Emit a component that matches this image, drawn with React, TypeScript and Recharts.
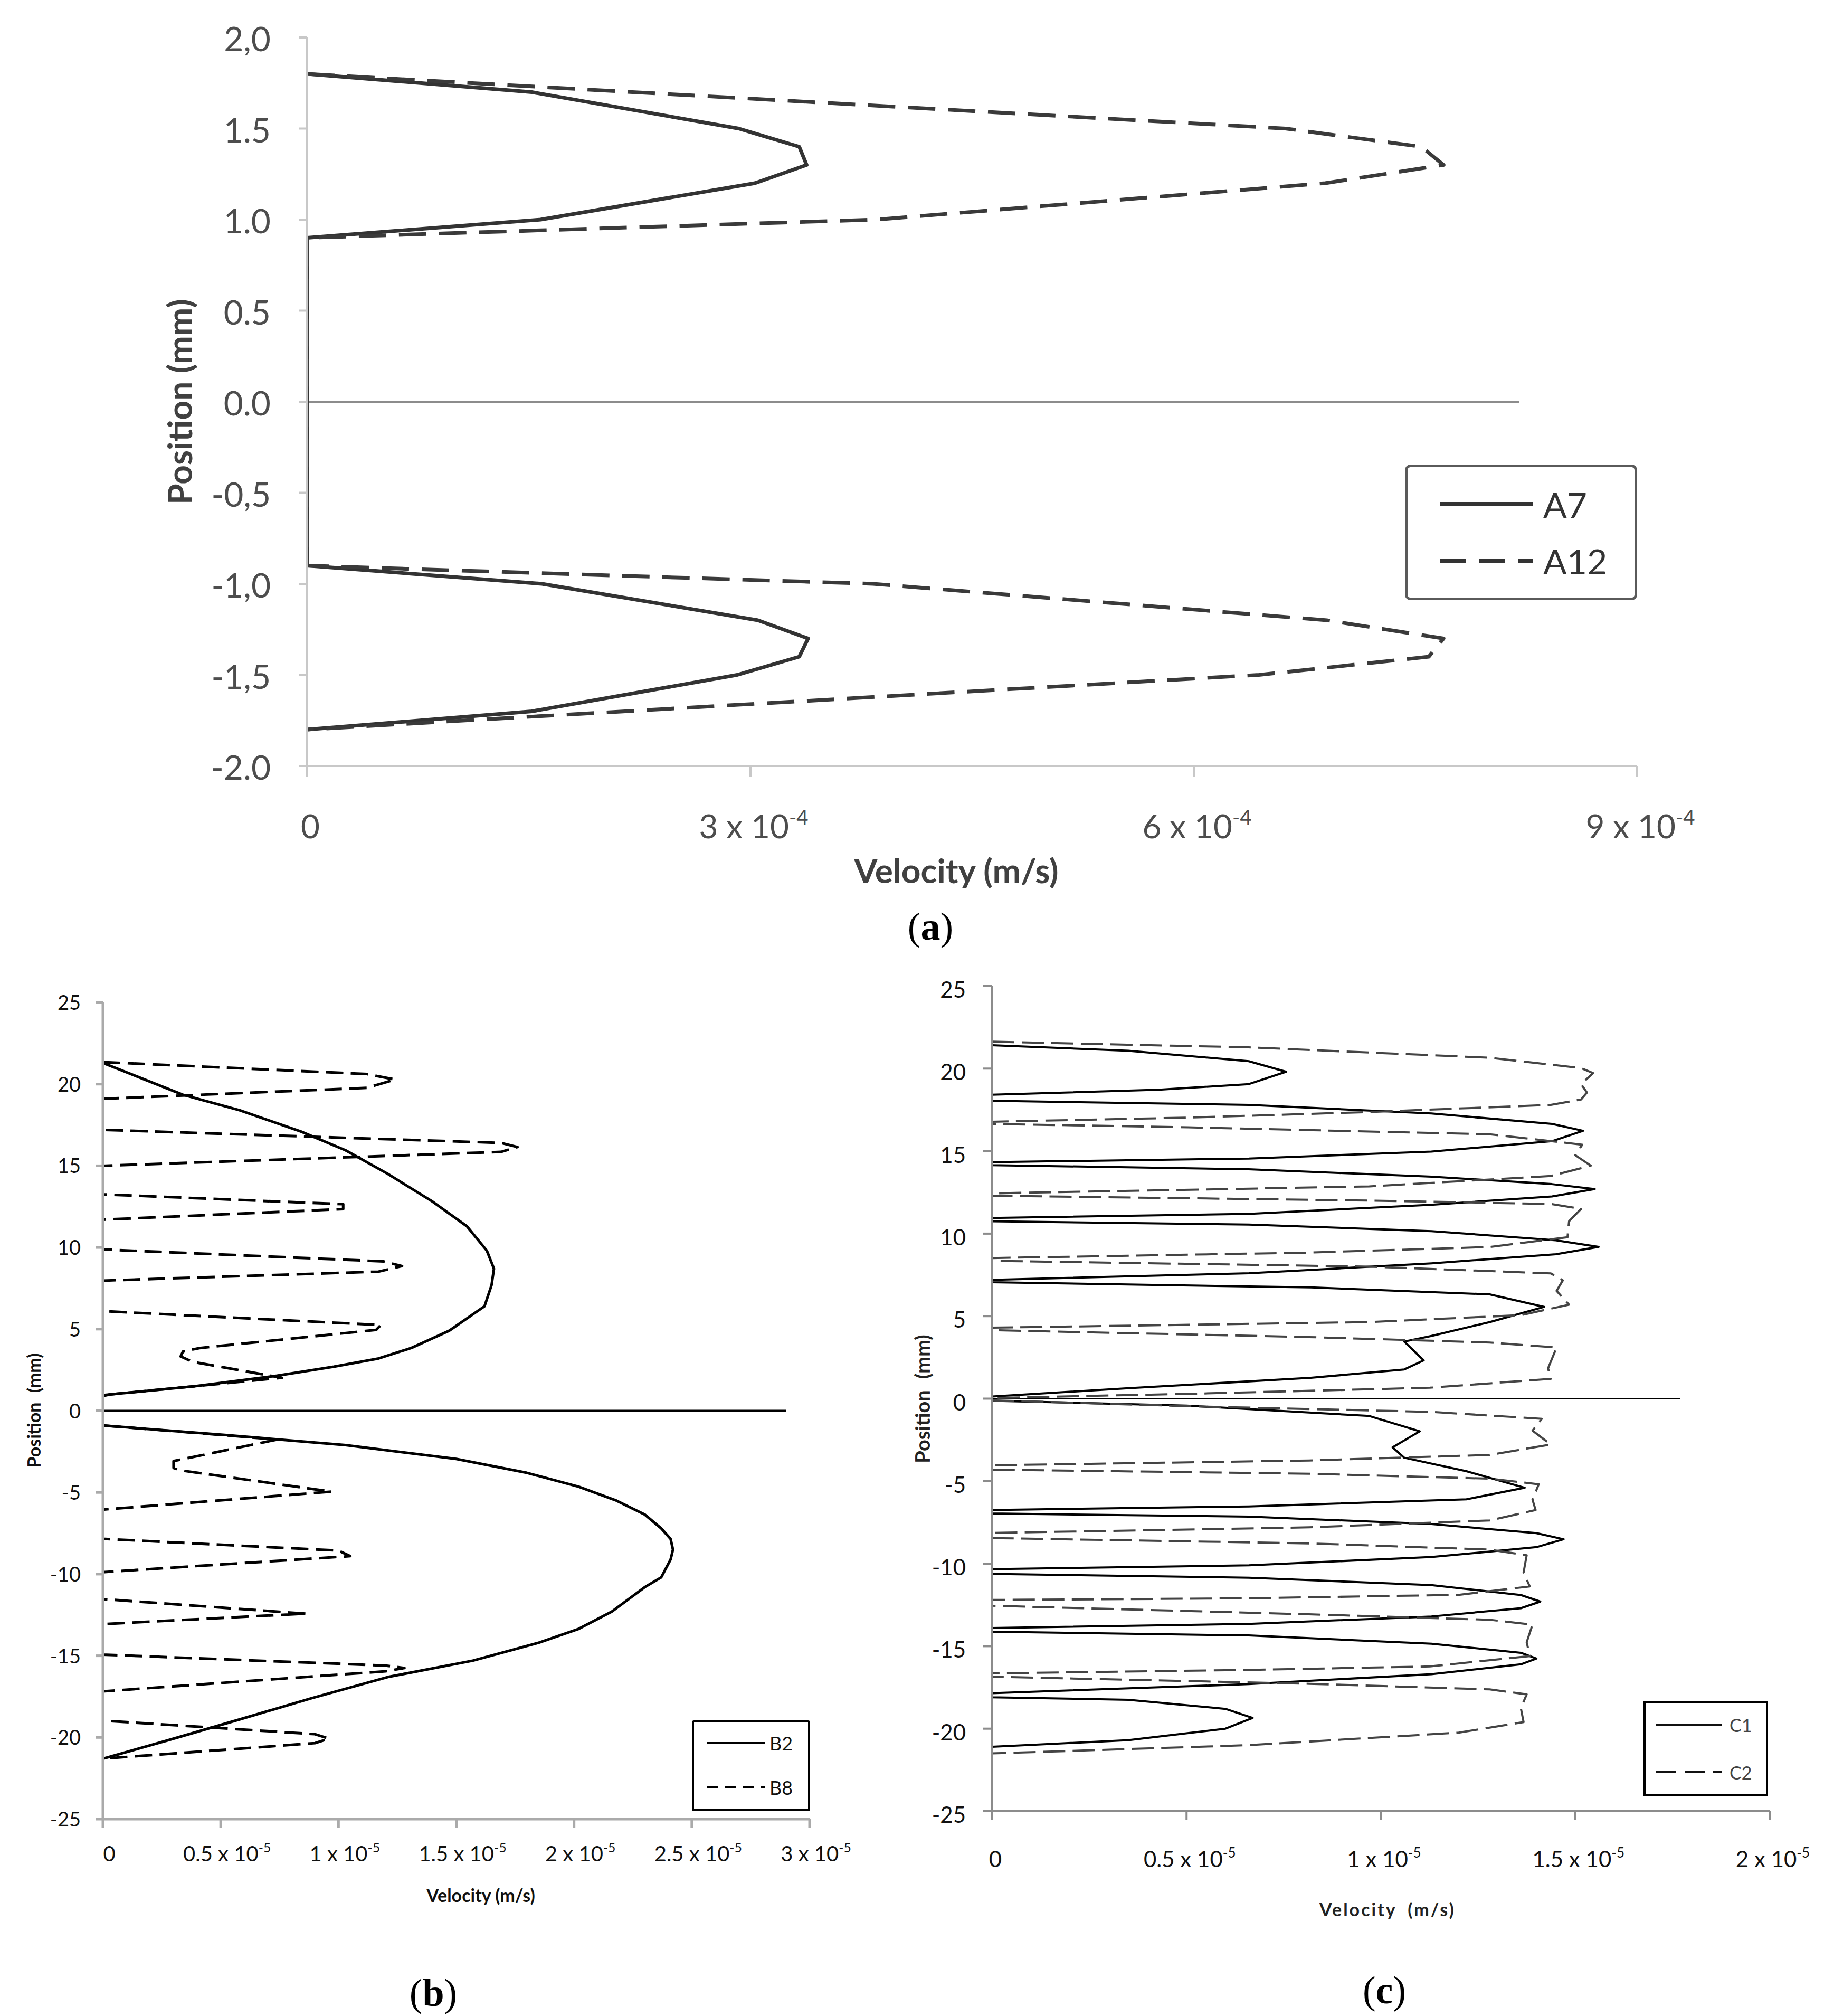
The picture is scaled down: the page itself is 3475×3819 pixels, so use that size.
import React from 'react';
import { LineChart, Line, XAxis, YAxis, Legend } from 'recharts';

const SANS = 'Lato, "Open Sans", "DejaVu Sans", sans-serif';
const SERIF = '"Liberation Serif", "DejaVu Serif", serif';

// ---------- Panel (a): velocity in 1e-4 m/s, position in mm
const posA7 = [1.8, 1.7, 1.5, 1.4, 1.3, 1.2, 1.0, 0.9, -0.9, -1.0, -1.2, -1.3, -1.4, -1.5, -1.7, -1.8];
const velA7 = [0, 1.52, 2.92, 3.33, 3.38, 3.03, 1.58, 0, 0, 1.59, 3.05, 3.39, 3.33, 2.91, 1.52, 0];
const posA12 = [1.8, 1.5, 1.4, 1.3, 1.2, 1.0, 0.9, -0.9, -1.0, -1.2, -1.3, -1.4, -1.5, -1.8];
const velA12 = [0, 6.62, 7.54, 7.69, 6.89, 3.85, 0, 0, 3.83, 6.9, 7.69, 7.59, 6.44, 0];
const posZeroA = [0, 0];
const velZeroA = [0, 8.2];
const xTicksA = [0, 3, 6, 9];
const xLabelsA = ['0', '3 x 10', '6 x 10', '9 x 10'];
const xSupsA = ['', '-4', '-4', '-4'];
const yTicksA = [2, 1.5, 1, 0.5, 0, -0.5, -1, -1.5, -2];
const yLabelsA = ['2,0', '1.5', '1.0', '0.5', '0.0', '-0,5', '-1,0', '-1,5', '-2.0'];

// ---------- Panel (b): velocity in 1e-5 m/s, position in mm
const posB2 = [21.3, 19.35, 18.4, 17.1, 15.95, 14.5, 12.8, 11.3, 9.8, 8.7, 7.7, 6.4, 4.9, 3.85, 3.2, 2.7, 2.15, 1.5, 1.0, 0.9,
  -0.9, -1.47, -2.1, -2.95, -3.8, -4.65, -5.5, -6.35, -7.2, -7.85, -8.5, -9.1, -10.2, -10.8, -12.3, -13.35, -14.2, -15.3, -16.3, -17.6, -18.9, -20.2, -21.3];
const velB2 = [0, 0.34, 0.58, 0.84, 1.03, 1.21, 1.4, 1.545, 1.63, 1.66, 1.65, 1.62, 1.47, 1.31, 1.17, 0.98, 0.74, 0.39, 0.03, 0,
  0, 0.51, 1.03, 1.5, 1.8, 2.02, 2.18, 2.3, 2.37, 2.41, 2.42, 2.41, 2.37, 2.3, 2.16, 2.02, 1.85, 1.57, 1.21, 0.885, 0.58, 0.27, 0];
const posB8 = [21.35, 20.62, 20.28, 19.77, 19.1,
  17.2, 16.4, 16.15, 15.85, 15.0,
  13.25, 12.65, 12.35, 11.7,
  9.88, 9.15, 8.86, 8.52, 7.97,
  6.1, 5.33, 5.25, 4.95, 3.84, 3.63, 3.33, 3.0, 2.02, 0.96,
  -0.9, -1.76, -3.08, -3.5, -3.67, -4.95, -6.05,
  -7.84, -8.56, -8.9, -9.88,
  -11.53, -12.42, -13.06,
  -14.93, -15.6, -15.75, -15.95, -17.18,
  -18.97, -19.8, -20.07, -20.35, -21.3];
const velB8 = [0, 1.12, 1.24, 1.12, 0,
  0, 1.69, 1.76, 1.69, 0,
  0, 1.02, 1.02, 0,
  0, 1.19, 1.27, 1.17, 0,
  0, 1.07, 1.18, 1.16, 0.41, 0.34, 0.33, 0.38, 0.76, 0,
  0, 0.74, 0.3, 0.3, 0.34, 0.97, 0,
  0, 1.0, 1.05, 0,
  0, 0.86, 0,
  0, 1.2, 1.28, 1.2, 0,
  0, 0.9, 0.96, 0.9, 0];
const posZeroB = [0, 0];
const velZeroB = [0, 2.9];
const xTicksB = [0, 0.5, 1, 1.5, 2, 2.5, 3];
const xLabelsB = ['0', '0.5 x 10', '1 x 10', '1.5 x 10', '2 x 10', '2.5 x 10', '3 x 10'];
const xSupsB = ['', '-5', '-5', '-5', '-5', '-5', '-5'];
const yTicksBC = [25, 20, 15, 10, 5, 0, -5, -10, -15, -20, -25];
const yLabelsBC = ['25', '20', '15', '10', '5', '0', '-5', '-10', '-15', '-20', '-25'];

// ---------- Panel (c): velocity in 1e-5 m/s, position in mm
const posC1 = [21.42, 21.08, 20.45, 19.81, 19.06, 18.72, 18.42,
  18.05, 17.8, 17.28, 16.65, 16.23, 15.6, 14.97, 14.55, 14.33,
  14.15, 13.9, 13.45, 13.0, 12.7, 12.25, 11.75, 11.2, 10.95,
  10.75, 10.55, 10.15, 9.6, 9.2, 8.75, 8.2, 7.6, 7.2,
  7.05, 6.74, 6.32, 5.56, 4.64, 3.8, 3.46, 2.32, 1.77, 1.26, 0.63, 0.13,
  -0.13, -0.42, -1.05, -1.98, -2.95, -3.58, -4.4, -5.4, -6.1, -6.53, -6.75,
  -6.96, -7.15, -7.6, -8.15, -8.52, -9.0, -9.6, -10.1, -10.33,
  -10.62, -10.85, -11.3, -11.9, -12.3, -12.7, -13.2, -13.65, -13.9,
  -14.12, -14.35, -14.85, -15.4, -15.75, -16.1, -16.7, -17.3, -17.85,
  -18.1, -18.25, -18.8, -19.35, -20.0, -20.7, -21.1];
const velC1 = [0, 0.35, 0.66, 0.756, 0.66, 0.43, 0,
  0, 0.66, 1.13, 1.44, 1.52, 1.44, 1.13, 0.66, 0,
  0, 0.66, 1.13, 1.44, 1.55, 1.44, 1.13, 0.66, 0,
  0, 0.66, 1.13, 1.45, 1.56, 1.45, 1.13, 0.66, 0,
  0, 0.82, 1.28, 1.42, 1.28, 1.13, 1.06, 1.11, 1.06, 0.82, 0.35, 0,
  0, 0.5, 0.97, 1.1, 1.03, 1.06, 1.22, 1.37, 1.22, 0.66, 0,
  0, 0.66, 1.13, 1.4, 1.47, 1.4, 1.13, 0.66, 0,
  0, 0.66, 1.13, 1.36, 1.41, 1.36, 1.13, 0.66, 0,
  0, 0.66, 1.13, 1.36, 1.4, 1.36, 1.13, 0.66, 0,
  0, 0.35, 0.6, 0.67, 0.6, 0.35, 0];
const posC2 = [21.63, 21.29, 20.66, 20.03, 19.73, 19.06, 18.55, 18.13, 17.8, 17.37, 17.03, 16.78,
  16.65, 16.44, 16.02, 15.39, 14.75, 14.12, 13.49, 12.86, 12.44,
  12.3, 12.0, 11.8, 11.5, 10.75, 9.78, 9.19, 8.85, 8.52,
  8.35, 8.0, 7.59, 7.17, 6.53, 5.69, 5.06, 4.64, 4.3,
  4.15, 3.73, 3.4, 3.1, 1.84, 1.2, 0.66, 0.29, 0.04,
  -0.1, -0.46, -0.8, -1.22, -1.94, -2.78, -3.41, -3.75, -4.04,
  -4.3, -4.55, -4.85, -5.19, -6.12, -6.75, -7.38, -7.8, -8.14,
  -8.45, -8.77, -9.15, -9.49, -10.54, -11.38, -11.89, -12.1, -12.2,
  -12.55, -13.07, -13.4, -13.7, -14.76, -15.6, -16.23, -16.44, -16.65,
  -16.85, -17.28, -17.62, -17.92, -18.76, -19.6, -20.24, -21.0, -21.5];
const velC2 = [0, 0.66, 1.28, 1.515, 1.546, 1.515, 1.53, 1.515, 1.437, 0.97, 0.504, 0,
  0, 0.504, 1.28, 1.518, 1.5, 1.54, 1.437, 0.97, 0,
  0, 0.97, 1.437, 1.515, 1.484, 1.48, 1.28, 0.815, 0,
  0, 0.97, 1.437, 1.468, 1.452, 1.484, 1.36, 0.97, 0,
  0, 0.815, 1.28, 1.452, 1.43, 1.437, 1.126, 0.504, 0,
  0, 0.504, 1.126, 1.414, 1.39, 1.437, 1.28, 0.815, 0,
  0, 0.815, 1.28, 1.406, 1.39, 1.398, 1.28, 0.815, 0,
  0, 0.815, 1.28, 1.375, 1.367, 1.383, 1.2, 0.66, 0,
  0, 0.815, 1.28, 1.39, 1.375, 1.383, 1.126, 0.66, 0,
  0, 0.815, 1.28, 1.375, 1.36, 1.367, 1.2, 0.66, 0];
const posZeroC = [0, 0];
const velZeroC = [0, 1.77];
const xTicksC = [0, 0.5, 1, 1.5, 2];
const xLabelsC = ['0', '0.5 x 10', '1 x 10', '1.5 x 10', '2 x 10'];
const xSupsC = ['', '-5', '-5', '-5', '-5'];

type Row = { v: number; y: number };
const rows = (vel: number[], pos: number[]): Row[] => vel.map((v, i) => ({ v, y: pos[i] }));
const idx = (ticks: number[], value: number) => ticks.findIndex((t) => Math.abs(t - value) < 1e-9);

const makeXTick = (ticks: number[], labels: string[], sups: string[], fs: number, fill: string, dx: number, dy: number, ls = 0) =>
  (props: any) => {
    const { x, y, payload } = props;
    const i = idx(ticks, payload.value);
    if (i < 0) return <g />;
    return (
      <text x={x + dx} y={y + dy} textAnchor="middle" fontFamily={SANS} fontSize={fs} fill={fill} letterSpacing={ls}>
        <tspan>{labels[i]}</tspan>
        {sups[i] ? <tspan dy={-fs * 0.42} fontSize={fs * 0.62}>{sups[i]}</tspan> : null}
      </text>
    );
  };

const makeYTick = (ticks: number[], labels: string[], fs: number, fill: string, dx: number, dy: number) =>
  (props: any) => {
    const { x, y, payload } = props;
    const i = idx(ticks, payload.value);
    if (i < 0) return <g />;
    return (
      <text x={x + dx} y={y + dy} textAnchor="end" fontFamily={SANS} fontSize={fs} fill={fill}>
        {labels[i]}
      </text>
    );
  };

const AxisTitle = (p: any) => (
  <text
    x={p.tx}
    y={p.ty}
    transform={p.rot ? `rotate(-90 ${p.tx} ${p.ty})` : undefined}
    textAnchor="middle"
    dominantBaseline="central"
    fontFamily={SANS}
    fontWeight="bold"
    fontSize={p.fs}
    fill={p.fill}
    letterSpacing={p.ls || 0}
    wordSpacing={p.ws || 0}
  >
    {p.text}
  </text>
);

type LegItem = { name: string; dash?: string };
const LegendBox = (p: {
  w: number; h: number; items: LegItem[]; ys: number[]; x1: number; x2: number; tx: number;
  fs: number; sw: number; border: string; bw: number; rx: number; color: string; textFill: string;
}) => (
  <svg width={p.w} height={p.h} style={{ display: 'block', overflow: 'visible' }}>
    <rect x={p.bw / 2} y={p.bw / 2} width={p.w - p.bw} height={p.h - p.bw} rx={p.rx} fill="#fff" stroke={p.border} strokeWidth={p.bw} />
    {p.items.map((it, i) => (
      <g key={it.name}>
        <line x1={p.x1} x2={p.x2} y1={p.ys[i]} y2={p.ys[i]} stroke={p.color} strokeWidth={p.sw} strokeDasharray={it.dash} strokeLinecap="butt" />
        <text x={p.tx} y={p.ys[i]} dominantBaseline="central" fontFamily={SANS} fontSize={p.fs} fill={p.textFill}>{it.name}</text>
      </g>
    ))}
  </svg>
);

const legendWrap = (left: number, top: number, w: number, h: number) => ({
  position: 'absolute' as const, left, top, width: w, height: h, right: 'auto', bottom: 'auto', margin: 0, padding: 0, lineHeight: 0,
});

const PanelA = () => {
  const axis = { stroke: '#c8c8c8', strokeWidth: 4 };
  return (
    <LineChart width={3475} height={1720} margin={{ top: 71, right: 373, bottom: 0, left: 0 }}>
      <XAxis
        dataKey="v" type="number" domain={[0, 9]} ticks={xTicksA} interval={0} height={269}
        axisLine={axis} tickLine={axis} tickSize={20} tickMargin={0} allowDataOverflow
        tick={makeXTick(xTicksA, xLabelsA, xSupsA, 62, '#4d4d4d', 6, 117)}
        label={<AxisTitle tx={1812} ty={1648} text="Velocity (m/s)" fs={64} fill="#404040" />}
      />
      <YAxis
        type="number" domain={[-2, 2]} ticks={yTicksA} interval={0} width={582}
        axisLine={axis} tickLine={axis} tickSize={15} tickMargin={0} allowDataOverflow
        tick={makeYTick(yTicksA, yLabelsA, 64, '#4d4d4d', -54, 26)}
        label={<AxisTitle tx={339} ty={761} rot text="Position (mm)" fs={64} fill="#404040" />}
      />
      <Line data={rows(velZeroA, posZeroA)} dataKey="y" stroke="#8c8c8c" strokeWidth={4} dot={false} isAnimationActive={false} legendType="none" />
      <Line data={rows(velA7, posA7)} dataKey="y" name="A7" stroke="#333" strokeWidth={7} dot={false} isAnimationActive={false} strokeLinejoin="round" />
      <Line data={rows(velA12, posA12)} dataKey="y" name="A12" stroke="#3a3a3a" strokeWidth={7} strokeDasharray="52 24" dot={false} isAnimationActive={false} strokeLinejoin="round" />
      <Legend
        layout="horizontal" verticalAlign="middle" align="center"
        wrapperStyle={legendWrap(2662, 880, 440, 257)}
        content={() => (
          <LegendBox w={440} h={257} items={[{ name: 'A7' }, { name: 'A12', dash: '50 24' }]} ys={[75, 182]}
            x1={66} x2={242} tx={262} fs={66} sw={8} border="#5a5a5a" bw={5} rx={8} color="#333" textFill="#333" />
        )}
      />
    </LineChart>
  );
};

const PanelB = () => {
  const axis = { stroke: '#aaaaaa', strokeWidth: 5 };
  return (
    <LineChart width={1680} height={1950} margin={{ top: 139, right: 146, bottom: 0, left: 0 }}>
      <XAxis
        dataKey="v" type="number" domain={[0, 3]} ticks={xTicksB} interval={0} height={264}
        axisLine={axis} tickLine={axis} tickSize={17} tickMargin={0} allowDataOverflow
        tick={makeXTick(xTicksB, xLabelsB, xSupsB, 40, '#111', 12, 63)}
        label={<AxisTitle tx={911} ty={1829} text="Velocity (m/s)" fs={34} fill="#111" />}
      />
      <YAxis
        type="number" domain={[-25, 25]} ticks={yTicksBC} interval={0} width={195}
        axisLine={axis} tickLine={axis} tickSize={13} tickMargin={0} allowDataOverflow
        tick={makeYTick(yTicksBC, yLabelsBC, 38, '#111', -29, 14)}
        label={<AxisTitle tx={63} ty={912} rot text="Position (mm)" fs={34} fill="#111" ws={10} />}
      />
      <Line data={rows(velZeroB, posZeroB)} dataKey="y" stroke="#000" strokeWidth={4} dot={false} isAnimationActive={false} legendType="none" />
      <Line data={rows(velB2, posB2)} dataKey="y" name="B2" stroke="#000" strokeWidth={5} dot={false} isAnimationActive={false} strokeLinejoin="round" />
      <Line data={rows(velB8, posB8)} dataKey="y" name="B8" stroke="#000" strokeWidth={5} strokeDasharray="33 14" dot={false} isAnimationActive={false} strokeLinejoin="round" />
      <Legend
        layout="horizontal" verticalAlign="middle" align="center"
        wrapperStyle={legendWrap(1311, 1499, 224, 172)}
        content={() => (
          <LegendBox w={224} h={172} items={[{ name: 'B2' }, { name: 'B8', dash: '22 12' }]} ys={[43, 127]}
            x1={28} x2={139} tx={147} fs={36} sw={4} border="#000" bw={4} rx={2} color="#000" textFill="#111" />
        )}
      />
    </LineChart>
  );
};

const PanelC = () => {
  const axis = { stroke: '#8c8c8c', strokeWidth: 4 };
  return (
    <LineChart width={1795} height={1950} margin={{ top: 108, right: 122, bottom: 0, left: 0 }}>
      <XAxis
        dataKey="v" type="number" domain={[0, 2]} ticks={xTicksC} interval={0} height={279}
        axisLine={axis} tickLine={axis} tickSize={17} tickMargin={0} allowDataOverflow
        tick={makeXTick(xTicksC, xLabelsC, xSupsC, 42, '#111', 6, 89)}
        label={<AxisTitle tx={949} ty={1856} text="Velocity (m/s)" fs={34} fill="#222" ls={3} ws={10} />}
      />
      <YAxis
        type="number" domain={[-25, 25]} ticks={yTicksBC} interval={0} width={200}
        axisLine={axis} tickLine={axis} tickSize={17} tickMargin={0} allowDataOverflow
        tick={makeYTick(yTicksBC, yLabelsBC, 42, '#111', -33, 22)}
        label={<AxisTitle tx={67} ty={890} rot text="Position (mm)" fs={38} fill="#222" ws={12} />}
      />
      <Line data={rows(velZeroC, posZeroC)} dataKey="y" stroke="#000" strokeWidth={3} dot={false} isAnimationActive={false} legendType="none" />
      <Line data={rows(velC1, posC1)} dataKey="y" name="C1" stroke="#000" strokeWidth={4} dot={false} isAnimationActive={false} strokeLinejoin="round" />
      <Line data={rows(velC2, posC2)} dataKey="y" name="C2" stroke="#444" strokeWidth={4} strokeDasharray="42 14" dot={false} isAnimationActive={false} strokeLinejoin="round" />
      <Legend
        layout="horizontal" verticalAlign="middle" align="center"
        wrapperStyle={legendWrap(1434, 1462, 236, 180)}
        content={() => (
          <LegendBox w={236} h={180} items={[{ name: 'C1' }, { name: 'C2', dash: '38 16' }]} ys={[45, 135]}
            x1={24} x2={149} tx={163} fs={34} sw={4} border="#000" bw={4} rx={0} color="#111" textFill="#444" />
        )}
      />
    </LineChart>
  );
};

const Caption = ({ x, y, letter }: { x: number; y: number; letter: string }) => (
  <div
    style={{
      position: 'absolute', left: x, top: y, transform: 'translate(-50%, -50%)',
      fontFamily: SERIF, fontSize: 74, lineHeight: 1, color: '#000', whiteSpace: 'nowrap',
    }}
  >
    (<b>{letter}</b>)
  </div>
);

export default function App() {
  return (
    <div style={{ position: 'absolute', left: 0, top: 0, width: 3475, height: 3819, background: '#fff', overflow: 'hidden' }}>
      <div style={{ position: 'absolute', left: 0, top: 0 }}>
        <PanelA />
      </div>
      <div style={{ position: 'absolute', left: 0, top: 1760 }}>
        <PanelB />
      </div>
      <div style={{ position: 'absolute', left: 1680, top: 1760 }}>
        <PanelC />
      </div>
      <Caption x={1763} y={1755} letter="a" />
      <Caption x={821} y={3775} letter="b" />
      <Caption x={2623} y={3770} letter="c" />
    </div>
  );
}
